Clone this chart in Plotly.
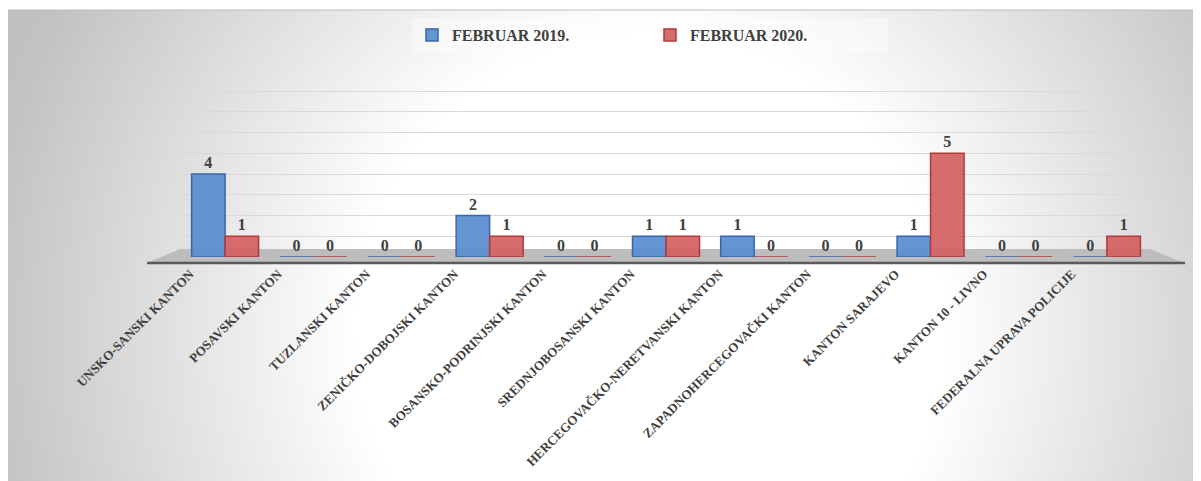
import plotly.graph_objects as go
import base64

categories = [
    "UNSKO-SANSKI KANTON", "POSAVSKI KANTON", "TUZLANSKI KANTON",
    "ZENIČKO-DOBOJSKI KANTON", "BOSANSKO-PODRINJSKI KANTON",
    "SREDNJOBOSANSKI KANTON", "HERCEGOVAČKO-NERETVANSKI KANTON",
    "ZAPADNOHERCEGOVAČKI KANTON", "KANTON SARAJEVO", "KANTON 10 - LIVNO",
    "FEDERALNA UPRAVA POLICIJE",
]
feb_2019 = [4, 0, 0, 2, 0, 1, 1, 0, 1, 0, 0]
feb_2020 = [1, 0, 0, 1, 0, 1, 0, 0, 5, 0, 1]
series_names = ["FEBRUAR 2019.", "FEBRUAR 2020."]

OFF = 8                      # page body margin of the browser
W, H = 1201 - OFF, 481 - OFF
FONT = "Liberation Serif"
TXT = "#404040"


def px(v):
    return v - OFF


# Background: radial gray->white gradient, frame and the 3D-look floor
svg = f'''<svg xmlns="http://www.w3.org/2000/svg" width="{W}" height="{H}" viewBox="0 0 {W} {H}">
<defs><radialGradient id="g" gradientUnits="userSpaceOnUse" cx="{px(650)}" cy="{px(330)}" r="700">
<stop offset="0" stop-color="#ffffff"/><stop offset="0.42" stop-color="#ffffff"/>
<stop offset="0.95" stop-color="#c3c3c3"/><stop offset="1" stop-color="#c0c0c0"/></radialGradient></defs>
<rect x="0" y="0" width="{W}" height="{H}" fill="#ffffff"/>
<rect x="-2" y="{px(10)}" width="{W+4}" height="{H}" fill="url(#g)" stroke="#bdbdbd" stroke-width="1"/>
<polygon points="{px(147)},{px(263)} {px(1185)},{px(263)} {px(1150)},{px(249)} {px(180)},{px(249)}" fill="#bdbdbd"/>
<line x1="{px(147)}" y1="{px(263)}" x2="{px(1185)}" y2="{px(263)}" stroke="#5a5a5a" stroke-width="2.5"/>
</svg>'''
bg_src = "data:image/svg+xml;base64," + base64.b64encode(svg.encode("utf-8")).decode()

fig = go.Figure()
fig.add_trace(go.Bar(
    x=categories, y=feb_2019, name=series_names[0],
    marker=dict(color="rgba(88,140,208,0.92)", line=dict(color="#3A66A8", width=1.5)),
    text=feb_2019, textposition="outside", cliponaxis=False,
    textfont=dict(family=FONT, size=16, color=TXT, weight="bold"),
))
fig.add_trace(go.Bar(
    x=categories, y=feb_2020, name=series_names[1],
    marker=dict(color="rgba(210,96,96,0.92)", line=dict(color="#B03A3A", width=1.5)),
    text=feb_2020, textposition="outside", cliponaxis=False,
    textfont=dict(family=FONT, size=16, color=TXT, weight="bold"),
))

fig.update_layout(
    width=W, height=H,
    margin=dict(l=0, r=0, t=0, b=0, autoexpand=False),
    paper_bgcolor="rgba(0,0,0,0)",
    plot_bgcolor="rgba(0,0,0,0)",
    barmode="group", bargap=0.24, bargroupgap=0.0,
    font=dict(family=FONT, color=TXT),
    images=[dict(source=bg_src, xref="paper", yref="paper", x=0, y=1,
                 sizex=1, sizey=1, sizing="stretch", xanchor="left",
                 yanchor="top", layer="below")],
    xaxis=dict(
        domain=[px(181) / W, px(1151) / W], automargin=False,
        tickangle=-45, showgrid=False, zeroline=False, showline=False,
        ticks="", ticklabelshift=-35, ticklabelstandoff=6,
        tickfont=dict(family=FONT, size=13, color=TXT, weight="bold"),
    ),
    yaxis=dict(
        domain=[1 - px(257) / H, 1 - px(70.25) / H], automargin=False,
        range=[0, 9], dtick=1, showticklabels=False,
        showgrid=True, gridcolor="#d9d9d9", gridwidth=1,
        zeroline=False, showline=False,
    ),
    legend=dict(
        orientation="h", x=px(412) / W, xanchor="left", y=1 - px(35) / H, yanchor="middle",
        entrywidth=193, entrywidthmode="pixels",
        bgcolor="rgba(255,255,255,0.35)",
        font=dict(family=FONT, size=16, color=TXT, weight="bold"),
        itemwidth=30,
    ),
    showlegend=True,
)

fig.write_html("out.html")
